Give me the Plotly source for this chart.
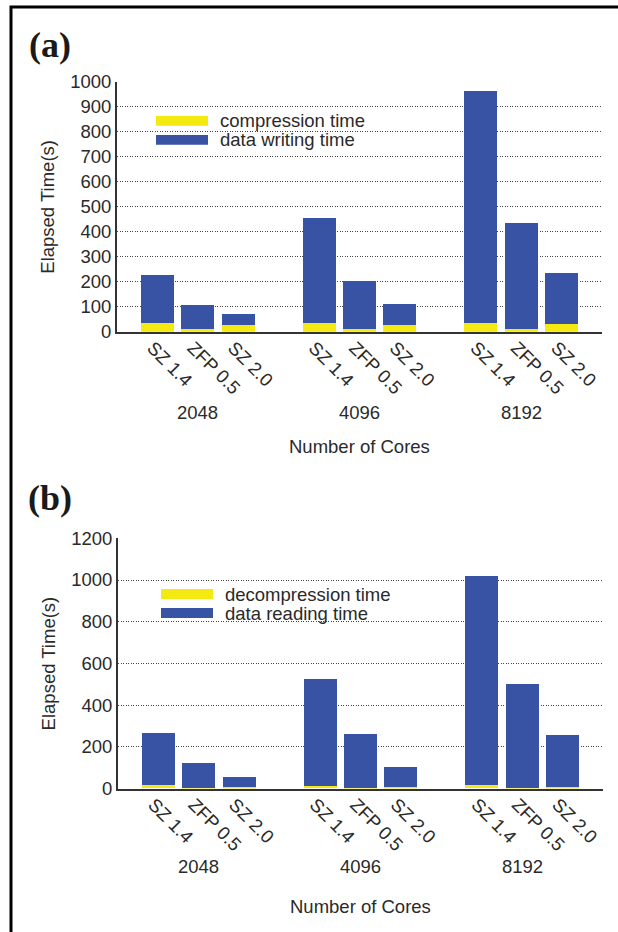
import plotly.graph_objects as go

# ---------------- data ----------------
cores = ["2048", "4096", "8192"]
methods = ["SZ 1.4", "ZFP 0.5", "SZ 2.0"]

# panel (a): compression / data writing (seconds), per core group, per method
compression_time = [[34, 10, 26], [34, 10, 26], [34, 10, 30]]
writing_time = [[192, 96, 44], [420, 192, 84], [928, 424, 204]]

# panel (b): decompression / data reading (seconds)
decompression_time = [[17, 3, 7], [12, 3, 7], [17, 3, 7]]
reading_time = [[249, 119, 48], [514, 259, 96], [1003, 499, 250]]

a_ticks = [0, 100, 200, 300, 400, 500, 600, 700, 800, 900, 1000]
b_ticks = [0, 200, 400, 600, 800, 1000, 1200]

# ---------------- styling ----------------
W, H = 618, 932
YELLOW = "#F5E912"
BLUE = "#3853A4"
TXT = "#2a2a2a"
FONT = "Liberation Sans"
FS = 18.5


def X(px):
    return px / W


def Y(py):
    return 1 - py / H


slot = len(methods) + 1
positions = [g * slot + i for g in range(len(cores)) for i in range(len(methods))]
labels = [m for _ in cores for m in methods]
group_centers = [g * slot + (len(methods) - 1) / 2 for g in range(len(cores))]


def flat(v):
    return [x for row in v for x in row]


fig = go.Figure()
for xa, ya, series, names in [
    ("x", "y", [compression_time, writing_time], ["compression time", "data writing time"]),
    ("x2", "y2", [decompression_time, reading_time], ["decompression time", "data reading time"]),
]:
    for vals, col, nm in zip(series, [YELLOW, BLUE], names):
        fig.add_trace(go.Bar(
            x=positions, y=flat(vals), xaxis=xa, yaxis=ya, name=nm,
            marker=dict(color=col, line=dict(width=0)), width=0.82,
            showlegend=False,
        ))

axis_common = dict(
    showline=True, linecolor="#333333", linewidth=2,
    tickfont=dict(family=FONT, size=FS, color=TXT),
    zeroline=False, automargin=False,
)
xcommon = dict(
    axis_common, range=[-1, 11], tickmode="array", tickvals=positions,
    ticktext=labels, tickangle=45, showgrid=False, ticks="",
    ticklabelstandoff=-4, ticklabelshift=-5,
)
ycommon = dict(
    axis_common, showgrid=True, griddash="1px,1.5px", gridcolor="#444444",
    gridwidth=1, ticks="", tickmode="array",
)

fig.update_layout(
    width=W, height=H, barmode="stack",
    margin=dict(l=0, r=0, t=0, b=0, pad=0),
    paper_bgcolor="white", plot_bgcolor="white",
    font=dict(family=FONT, size=FS, color=TXT),
    showlegend=False,
    xaxis=dict(xcommon, domain=[X(117), X(602)], anchor="y"),
    yaxis=dict(ycommon, domain=[Y(331.7), Y(81.7)], range=[0, 1000],
               tickvals=a_ticks, anchor="x"),
    xaxis2=dict(xcommon, domain=[X(118), X(603)], anchor="y2"),
    yaxis2=dict(ycommon, domain=[Y(788.5), Y(538.3)], range=[0, 1200],
                tickvals=b_ticks, anchor="x2"),
)

shapes = []
annotations = []

# frame
shapes.append(dict(type="rect", xref="paper", yref="paper",
                   x0=X(11), x1=X(640), y0=Y(960), y1=Y(7),
                   line=dict(color="black", width=3), fillcolor="rgba(0,0,0,0)"))

# legends (drawn manually to match wide swatches)
for (sx0, sx1, ys, tx, names) in [
    (156, 208, [(116, 125.7), (135, 144.7)], 218, ["compression time", "data writing time"]),
    (161, 213, [(589, 599), (608, 618)], 223, ["decompression time", "data reading time"]),
]:
    for (y0, y1), col, nm in zip(ys, [YELLOW, BLUE], names):
        shapes.append(dict(type="rect", xref="paper", yref="paper",
                           x0=X(sx0), x1=X(sx1), y0=Y(y1), y1=Y(y0),
                           fillcolor=col, line=dict(width=0)))
        annotations.append(dict(xref="paper", yref="paper", x=X(tx), y=Y((y0 + y1) / 2),
                                text=nm, showarrow=False, xanchor="left", yanchor="middle",
                                font=dict(family=FONT, size=FS, color=TXT)))

# panel letters
for letter, cy in [("(a)", 45), ("(b)", 498)]:
    annotations.append(dict(xref="paper", yref="paper", x=X(49.5), y=Y(cy), text="<b>%s</b>" % letter,
                            showarrow=False, xanchor="center", yanchor="middle",
                            font=dict(family="Liberation Serif", size=36, color="#1a1a1a")))

# group labels, axis titles
for xa, gy, ty, ycen, xcen in [("x", 412.7, 446, 206.7, 359.5), ("x2", 866.7, 906.7, 663.4, 360.5)]:
    for c, gc in zip(cores, group_centers):
        annotations.append(dict(xref=xa, yref="paper", x=gc, y=Y(gy), text=c, showarrow=False,
                                xanchor="center", yanchor="middle",
                                font=dict(family=FONT, size=FS, color=TXT)))
    annotations.append(dict(xref="paper", yref="paper", x=X(xcen), y=Y(ty), text="Number of Cores",
                            showarrow=False, xanchor="center", yanchor="middle",
                            font=dict(family=FONT, size=FS, color=TXT)))
    annotations.append(dict(xref="paper", yref="paper", x=X(48), y=Y(ycen), text="Elapsed Time(s)",
                            showarrow=False, xanchor="center", yanchor="middle", textangle=-90,
                            font=dict(family=FONT, size=FS, color=TXT)))

fig.update_layout(shapes=shapes, annotations=annotations)
fig.write_html(
    "out.html",
    config={"displayModeBar": False},
    post_script="document.body.style.margin='0';document.documentElement.style.overflow='hidden';document.body.style.overflow='hidden';",
)
